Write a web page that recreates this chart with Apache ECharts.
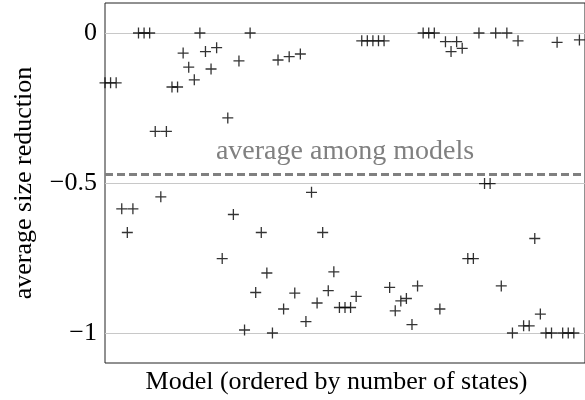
<!DOCTYPE html>
<html>
<head>
<meta charset="utf-8">
<script src="https://cdn.jsdelivr.net/npm/echarts@6/dist/echarts.min.js"></script>
<style>html,body{margin:0;padding:0;background:#fff}#c{width:585px;height:400px}</style>
</head>
<body>
<div id="c"></div>
<script>
// Average size reduction per model (models ordered by number of states)
const reduction = [
  -0.166, -0.166, -0.166, -0.586, -0.665, -0.586, 0, 0, 0, -0.328,
  -0.546, -0.328, -0.180, -0.180, -0.067, -0.114, -0.156, 0, -0.062, -0.120,
  -0.049, -0.752, -0.283, -0.605, -0.093, -0.990, 0, -0.865, -0.665, -0.800,
  -1.0, -0.090, -0.920, -0.079, -0.867, -0.070, -0.962, -0.531, -0.900, -0.665,
  -0.859, -0.796, -0.915, -0.915, -0.915, -0.878, -0.026, -0.026, -0.026, -0.026,
  -0.026, -0.848, -0.926, -0.893, -0.885, -0.972, -0.843, 0, 0, 0,
  -0.920, -0.029, -0.062, -0.029, -0.051, -0.752, -0.752, 0, -0.502, -0.502,
  0, -0.843, 0, -1.0, -0.026, -0.976, -0.976, -0.685, -0.937, -1.0,
  -1.0, -0.031, -1.0, -1.0, -1.0, -0.023
];
const averageAmongModels = -0.465;
const yTickValues = [0, -0.5, -1];
const averageLabel = 'average among models';
const xAxisTitle = 'Model (ordered by number of states)';
const yAxisTitle = 'average size reduction';

const FONT = 'Liberation Serif';
const chart = echarts.init(document.getElementById('c'), null, {renderer: 'canvas'});
const fmt = v => String(v).replace('-', '\u2212');

chart.setOption({
  animation: false,
  backgroundColor: '#fff',
  grid: {left: 105, top: 3, width: 482, height: 361, show: true, borderColor: '#222', borderWidth: 1},
  xAxis: {
    type: 'value', min: 0, max: 86,
    axisLine: {show: false}, axisTick: {show: false}, axisLabel: {show: false}, splitLine: {show: false},
    name: xAxisTitle, nameLocation: 'middle', nameGap: 6,
    nameTextStyle: {fontFamily: FONT, fontSize: 26, color: '#000', padding: [0, 17, 0, 0]}
  },
  yAxis: {
    type: 'value', min: -1.1, max: 0.1,
    axisLine: {show: false},
    axisTick: {show: false, customValues: yTickValues},
    axisLabel: {customValues: yTickValues, formatter: fmt, fontFamily: FONT, fontSize: 26, color: '#000', margin: 8},
    splitLine: {show: true, lineStyle: {color: '#c8c8c8', width: 1}},
    name: yAxisTitle, nameLocation: 'middle', nameGap: 68,
    nameTextStyle: {fontFamily: FONT, fontSize: 26, color: '#000'}
  },
  series: [{
    type: 'scatter',
    data: reduction.map((v, i) => [i, v]),
    symbol: 'path://M4.85,0H6.15V4.85H11V6.15H6.15V11H4.85V6.15H0V4.85H4.85Z',
    symbolSize: 11,
    itemStyle: {color: '#000'},
    z: 3,
    markLine: {
      silent: true,
      symbol: 'none',
      data: [{yAxis: averageAmongModels}],
      lineStyle: {color: '#808080', width: 3, type: [8, 4]},
      label: {
        show: true, position: 'insideMiddleTop', formatter: averageLabel,
        fontFamily: FONT, fontSize: 28, color: '#808080', distance: 8
      }
    }
  }]
});
</script>
</body>
</html>
